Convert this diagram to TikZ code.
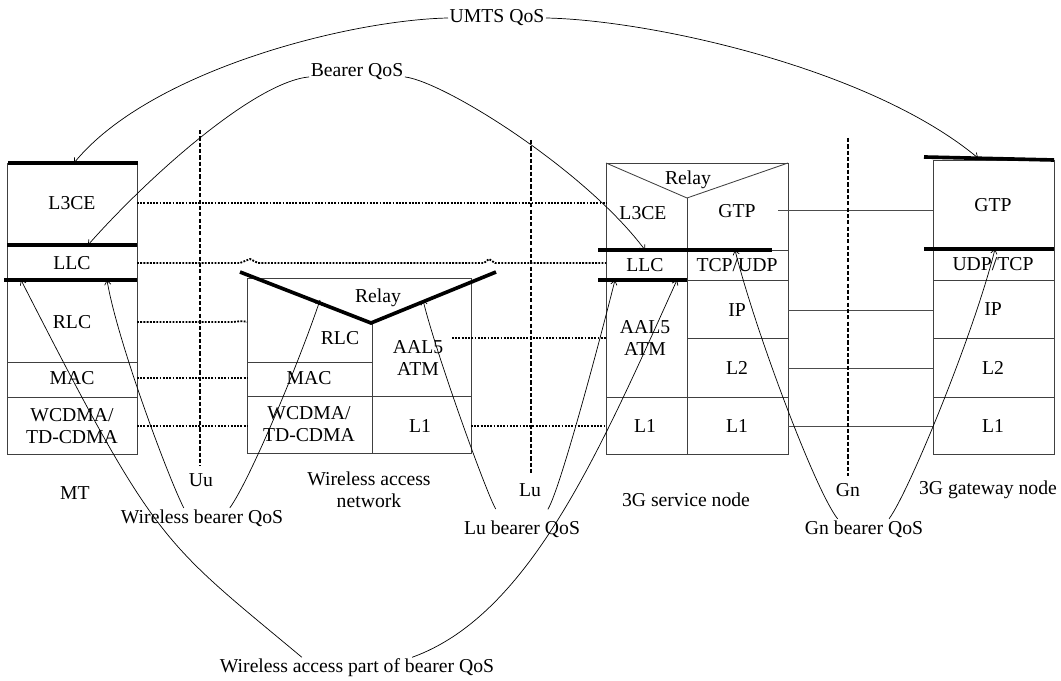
\documentclass[tikz,border=0pt]{standalone}
\usepackage{fontspec}
\setmainfont{Liberation Serif}
\usetikzlibrary{arrows.meta}

\tikzset{
  lbl/.style={font=\fontsize{14}{16}\selectfont, inner sep=1pt, align=center},
  frame/.style={draw=black!75, line width=0.6pt},
  bar/.style={line width=2.6pt},
  peer/.style={densely dotted, line width=1.3pt},
  link/.style={draw=black!70, line width=0.6pt},
  iface/.style={dash pattern=on 3pt off 1.5pt, line width=0.8pt},
  qos/.style={-{Straight Barb[length=3pt, width=4.5pt]}, line width=0.5pt}
}

\begin{document}
\begin{tikzpicture}[x=0.025cm, y=-0.025cm]
        \useasboundingbox (0,0) rectangle (1061,681);

        % MT stack
        \draw[frame] (7,163) rectangle (137,454);
        \foreach \y in {362,397}
            \draw[frame] (7,\y) -- (137,\y);
        \draw[bar] (8,163) -- (138,163);
        \draw[bar] (7,245) -- (137,245);
        \draw[bar] (4,280) -- (137,280);
        \node[lbl] (mtL3) at (72,203) {L3CE};
        \node[lbl] (mtLLC) at (72,263) {LLC};
        \node[lbl] (mtRLC) at (72,322) {RLC};
        \node[lbl] (mtMAC) at (72,378) {MAC};
        \node[lbl] (mtPHY) at (72,426) {WCDMA/\\TD-CDMA};

        % Wireless access network stack
        \draw[frame] (247,278) rectangle (471,453);
        \draw[frame] (372,323) -- (372,453);
        \draw[frame] (247,362) -- (372,362);
        \draw[frame] (247,396) -- (471,396);
        \draw[bar] (240,272) -- (371,323) -- (496,272);
        \node[lbl] (anRelay) at (378,298) {Relay};
        \node[lbl] (anRLC) at (340,338) {RLC};
        \node[lbl] (anMAC) at (309,378) {MAC};
        \node[lbl] (anPHY) at (309,424) {WCDMA/\\TD-CDMA};
        \node[lbl] (anATM) at (418,358) {AAL5\\ATM};
        \node[lbl] (anL1) at (420,426) {L1};

        % 3G service node stack
        \draw[frame] (606,163) rectangle (788,454);
        \draw[frame] (606,163) -- (687,198) -- (788,163);
        \draw[frame] (687,198) -- (687,454);
        \foreach \y in {250,280,338}
            \draw[frame] (687,\y) -- (788,\y);
        \draw[frame] (606,397) -- (788,397);
        \draw[bar] (598,250) -- (772,250);
        \draw[bar] (598,280) -- (687,280);
        \node[lbl] (snRelay) at (688,180) {Relay};
        \node[lbl] (snL3) at (643,213) {L3CE};
        \node[lbl] (snGTP) at (737,211) {GTP};
        \node[lbl] (snLLC) at (645,265) {LLC};
        \node[lbl] (snTCP) at (737,265) {TCP/UDP};
        \node[lbl] (snATM) at (645,338) {AAL5\\ATM};
        \node[lbl] (snIP) at (737,310) {IP};
        \node[lbl] (snL2) at (737,368) {L2};
        \node[lbl] (snL1a) at (645,426) {L1};
        \node[lbl] (snL1b) at (737,426) {L1};

        % 3G gateway node stack
        \draw[frame] (933,160) rectangle (1054,454);
        \foreach \y in {280,338,397}
            \draw[frame] (933,\y) -- (1054,\y);
        \draw[bar] (924,157) -- (1054,160);
        \draw[bar] (924,249) -- (1054,249);
        \node[lbl] (gwGTP) at (993,205) {GTP};
        \node[lbl] (gwUDP) at (993,264) {UDP/TCP};
        \node[lbl] (gwIP) at (993,309) {IP};
        \node[lbl] (gwL2) at (993,368) {L2};
        \node[lbl] (gwL1) at (993,426) {L1};

        % Stack edges
        \coordinate (mtE) at (137,0);
        \coordinate (anW) at (247,0);
        \coordinate (anE) at (471,0);
        \coordinate (snW) at (606,0);
        \coordinate (snE) at (788,0);
        \coordinate (gwW) at (933,0);
        \coordinate (anAAL) at (452,338);
        \coordinate (snGTPend) at (778,210);

        % Peer layers (dotted)
        \draw[peer] (mtL3 -| mtE) -- (mtL3 -| snW);
        \draw[peer] (mtLLC -| mtE) -- (240,263) -- (250,259) -- (258,263) -- (484,263) -- (489,259) -- (495,263) -- (mtLLC -| snW);
        \draw[peer] (mtRLC -| mtE) -- (232,322) to[out=0,in=160] (mtRLC -| anW);
        \draw[peer] (mtMAC -| mtE) -- (mtMAC -| anW);
        \draw[peer] (mtPHY -| mtE) -- (mtPHY -| anW);
        \draw[peer] (anAAL) -- (anAAL -| snW);
        \draw[peer] (anL1 -| anE) -- (anL1 -| snW);

        % Gn links
        \draw[link] (snGTPend) -- (snGTPend -| gwW);
        \draw[link] (snIP -| snE) -- (snIP -| gwW);
        \draw[link] (snL2 -| snE) -- (snL2 -| gwW);
        \draw[link] (snL1b -| snE) -- (snL1b -| gwW);

        % Interfaces
        \draw[iface] (200,130) -- (200,466);
        \draw[iface] (531,140) -- (531,474);
        \draw[iface] (848,138) -- (848,476);

        % Captions
        \node[lbl] (mt) at (75,493) {MT};
        \node[lbl] (uu) at (201,480) {Uu};
        \node[lbl, fill=white] (an) at (369,490) {Wireless access\\network};
        \node[lbl, fill=white] (lu) at (530,490) {Lu};
        \node[lbl] (sn) at (686,500) {3G service node};
        \node[lbl] (gn) at (848,490) {Gn};
        \node[lbl] (gw) at (988,490) {3G gateway node};

        % QoS labels
        \node[lbl] (umts) at (497,18) {UMTS QoS};
        \node[lbl] (bearer) at (357,72) {Bearer QoS};
        \node[lbl] (wb) at (202,518) {Wireless bearer QoS};
        \node[lbl] (lb) at (522,529) {Lu bearer QoS};
        \node[lbl] (gb) at (864,529) {Gn bearer QoS};
        \node[lbl] (wap) at (357,668) {Wireless access part of bearer QoS};

        % Arrow ends on the layers
        \coordinate (mtTop) at (74,163);
        \coordinate (gwTop) at (978,158);
        \coordinate (mtLLCtop) at (88,245);
        \coordinate (snLLCtop) at (645,250);
        \coordinate (mtLLCa) at (21,280);
        \coordinate (mtLLCb) at (107,280);
        \coordinate (anVl) at (320,300);
        \coordinate (anVr) at (423,300);
        \coordinate (snLLCa) at (615,280);
        \coordinate (snLLCb) at (677,280);
        \coordinate (snTCPtop) at (735,250);
        \coordinate (gwUDPtop) at (995,249);

        % QoS arcs
        \draw[qos] (umts.west) .. controls (350,20) and (150,70) .. (mtTop);
        \draw[qos] (umts.east) .. controls (650,20) and (870,68) .. (gwTop);
        \draw[qos] (bearer.base west) .. controls (255,82) and (150,175) .. (mtLLCtop);
        \draw[qos] (bearer.base east) .. controls (445,82) and (585,170) .. (snLLCtop);
        \draw[qos] (wb.151) .. controls (168,477) and (117,340) .. (mtLLCb);
        \draw[qos] (wb.20) .. controls (250,480) and (300,360) .. (anVl);
        \draw[qos, shorten <=8pt] (lb.154) .. controls (485,490) and (435,350) .. (anVr);
        \draw[qos, shorten <=8pt] (lb.27) .. controls (560,490) and (600,340) .. (snLLCa);
        \draw[qos] (gb.159) .. controls (815,490) and (755,330) .. (snTCPtop);
        \draw[qos] (gb.22) .. controls (910,490) and (975,330) .. (gwUDPtop);
        \draw[qos] (wap.169) .. controls (160,539) and (157,546) .. (mtLLCa);
        \draw[qos] (wap.11) .. controls (530,615) and (600,450) .. (snLLCb);
\end{tikzpicture}
\end{document}
